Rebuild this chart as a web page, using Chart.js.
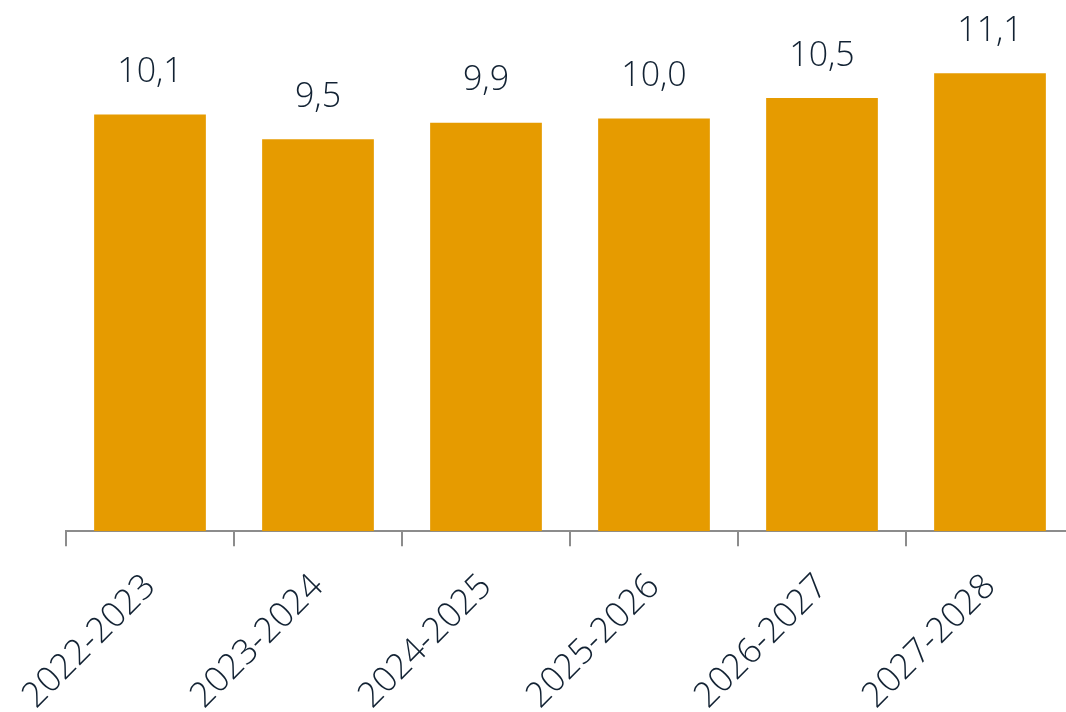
<!DOCTYPE html>
<html>
<head>
<meta charset="utf-8">
<script src="https://cdn.jsdelivr.net/npm/chart.js@4/dist/chart.umd.min.js"></script>
<style>
  html, body { margin: 0; padding: 0; background: #fff; overflow: hidden; }
  #wrap { position: absolute; left: 0; top: 0; width: 1074px; height: 737px; }
</style>
</head>
<body>
<div id="wrap"><canvas id="c"></canvas></div>
<script>
const categories = ["2022-2023", "2023-2024", "2024-2025", "2025-2026", "2026-2027", "2027-2028"];
const values = [10.1, 9.5, 9.9, 10.0, 10.5, 11.1];
const valueLabels = ["10,1", "9,5", "9,9", "10,0", "10,5", "11,1"];

const TEXT = "#122233";
const FONT = "'Open Sans', sans-serif";

const valueLabelPlugin = {
  id: "valueLabels",
  afterDatasetsDraw(chart) {
    const ctx = chart.ctx;
    const meta = chart.getDatasetMeta(0);
    ctx.save();
    ctx.font = "300 34px " + FONT;
    ctx.fillStyle = TEXT;
    ctx.textAlign = "center";
    ctx.textBaseline = "bottom";
    meta.data.forEach((bar, i) => {
      ctx.fillText(valueLabels[i], bar.x, bar.y - 25);
    });
    ctx.restore();
  }
};

new Chart(document.getElementById("c"), {
  type: "bar",
  data: {
    labels: categories,
    datasets: [{
      data: values,
      backgroundColor: "#e69b00",
      borderWidth: 0,
      categoryPercentage: 1.0,
      barPercentage: 0.665
    }]
  },
  options: {
    responsive: true,
    maintainAspectRatio: false,
    animation: false,
    layout: { padding: { left: 66, top: 36, right: 0, bottom: 0 } },
    plugins: { legend: { display: false }, tooltip: { enabled: false } },
    scales: {
      y: { display: false, min: 0, max: 12 },
      x: {
        border: { display: true, color: "#8c8c8c", width: 2 },
        grid: { display: true, drawOnChartArea: false, drawTicks: true, tickLength: 15, color: "#8c8c8c", lineWidth: 2, offset: true },
        ticks: {
          minRotation: 45, maxRotation: 45,
          color: TEXT,
          padding: 20,
          font: { family: FONT, size: 35, weight: 300 }
        }
      }
    }
  },
  plugins: [valueLabelPlugin]
});
</script>
</body>
</html>
